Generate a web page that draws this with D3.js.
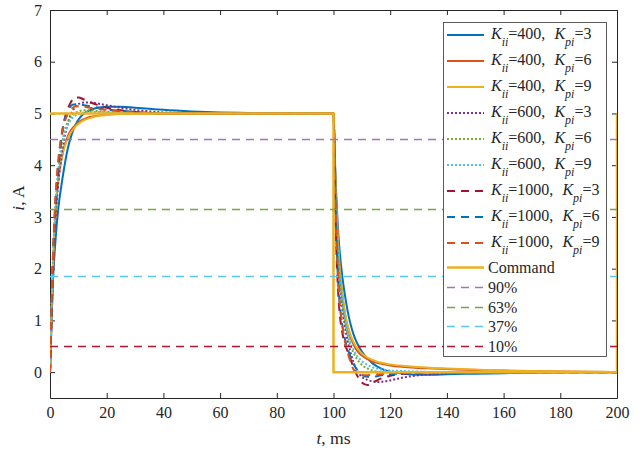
<!DOCTYPE html>
<html>
<head>
<meta charset="utf-8">
<script src="https://cdn.jsdelivr.net/npm/d3@7"></script>
<style>
  body { margin: 0; background: #fff; }
  text { font-family: "Liberation Serif", "Times New Roman", serif; fill: #262626; }
</style>
</head>
<body>
<script>
// time samples (ms): step up at 0, step down at 100
var tMs = [0, 0.5, 1, 1.5, 2, 3, 4, 5, 6, 7, 8, 9, 10, 12, 14, 16, 18, 20, 25, 30, 35, 40, 50, 60, 70, 80, 100,
           100.5, 101, 101.5, 102, 103, 104, 105, 106, 107, 108, 109, 110, 112, 114, 116, 118, 120, 125, 130, 135, 140, 150, 160, 170, 180, 200];

// current responses, A
var kii400kpi3 = [0, 0.9, 1.7, 2.2, 2.6, 3.2, 3.6, 3.95, 4.25, 4.48, 4.65, 4.78, 4.88, 5.0, 5.06, 5.1, 5.12, 5.13, 5.13, 5.11, 5.09, 5.07, 5.04, 5.02, 5.01, 5.0, 5.0,
                  4.1, 3.4, 2.85, 2.45, 1.9, 1.5, 1.18, 0.93, 0.74, 0.6, 0.49, 0.4, 0.26, 0.16, 0.09, 0.04, 0.01, -0.03, -0.05, -0.05, -0.04, -0.03, -0.02, -0.01, 0, 0];
var kii400kpi6 = [0, 1.0, 1.9, 2.6, 3.1, 3.75, 4.1, 4.35, 4.52, 4.64, 4.72, 4.78, 4.83, 4.89, 4.93, 4.95, 4.97, 4.98, 4.99, 5.0, 5.0, 5.0, 5.0, 5.0, 5.0, 5.0, 5.0,
                  4.0, 3.2, 2.6, 2.15, 1.55, 1.15, 0.88, 0.68, 0.54, 0.44, 0.37, 0.32, 0.25, 0.2, 0.17, 0.15, 0.13, 0.1, 0.08, 0.07, 0.06, 0.04, 0.03, 0.02, 0.01, 0];
var kii400kpi9 = [0, 1.1, 2.0, 2.7, 3.2, 3.8, 4.12, 4.33, 4.48, 4.6, 4.68, 4.75, 4.8, 4.87, 4.91, 4.94, 4.96, 4.97, 4.99, 4.995, 5.0, 5.0, 5.0, 5.0, 5.0, 5.0, 5.0,
                  4.0, 3.2, 2.6, 2.15, 1.55, 1.15, 0.9, 0.72, 0.59, 0.49, 0.42, 0.36, 0.28, 0.23, 0.19, 0.17, 0.15, 0.12, 0.1, 0.08, 0.07, 0.05, 0.03, 0.02, 0.01, 0];
var kii600kpi3 = [0, 0.9, 1.8, 2.5, 3.0, 3.7, 4.15, 4.5, 4.75, 4.93, 5.05, 5.13, 5.18, 5.21, 5.21, 5.2, 5.18, 5.16, 5.11, 5.07, 5.04, 5.02, 5.01, 5.0, 5.0, 5.0, 5.0,
                  3.9, 2.9, 2.3, 1.85, 1.3, 0.9, 0.6, 0.38, 0.2, 0.07, -0.03, -0.09, -0.15, -0.18, -0.19, -0.18, -0.16, -0.1, -0.06, -0.04, -0.02, -0.01, 0, 0, 0, 0];
var kii600kpi6 = [0, 1.0, 2.0, 2.7, 3.2, 3.9, 4.35, 4.62, 4.8, 4.9, 4.97, 5.01, 5.04, 5.06, 5.06, 5.05, 5.04, 5.03, 5.02, 5.01, 5.0, 5.0, 5.0, 5.0, 5.0, 5.0, 5.0,
                  3.9, 3.0, 2.4, 1.95, 1.4, 1.0, 0.72, 0.52, 0.38, 0.28, 0.2, 0.14, 0.07, 0.03, 0.01, 0, -0.01, -0.01, 0, 0, 0, 0, 0, 0, 0, 0];
var kii600kpi9 = [0, 1.1, 2.1, 2.8, 3.3, 3.95, 4.35, 4.6, 4.75, 4.85, 4.92, 4.96, 4.99, 5.02, 5.03, 5.03, 5.03, 5.02, 5.01, 5.0, 5.0, 5.0, 5.0, 5.0, 5.0, 5.0, 5.0,
                  3.95, 3.05, 2.45, 2.0, 1.45, 1.05, 0.78, 0.58, 0.44, 0.34, 0.27, 0.21, 0.14, 0.09, 0.06, 0.04, 0.03, 0.02, 0.01, 0, 0, 0, 0, 0, 0, 0];
var kii1000kpi3 = [0, 1.0, 2.0, 2.7, 3.2, 3.95, 4.5, 4.85, 5.05, 5.18, 5.27, 5.31, 5.31, 5.27, 5.22, 5.18, 5.14, 5.11, 5.06, 5.03, 5.01, 5.0, 5.0, 5.0, 5.0, 5.0, 5.0,
                   3.6, 2.4, 1.7, 1.25, 0.8, 0.55, 0.4, 0.25, 0.1, -0.03, -0.13, -0.2, -0.25, -0.2, -0.14, -0.1, -0.07, -0.03, -0.01, 0, 0, 0, 0, 0, 0, 0];
var kii1000kpi6 = [0, 1.1, 2.1, 2.8, 3.35, 4.05, 4.55, 4.85, 5.02, 5.12, 5.17, 5.18, 5.18, 5.16, 5.14, 5.12, 5.1, 5.08, 5.05, 5.03, 5.01, 5.0, 5.0, 5.0, 5.0, 5.0, 5.0,
                   3.7, 2.6, 1.9, 1.45, 0.95, 0.65, 0.45, 0.3, 0.17, 0.07, 0.0, -0.05, -0.09, -0.09, -0.07, -0.05, -0.04, -0.02, -0.01, 0, 0, 0, 0, 0, 0, 0];
var kii1000kpi9 = [0, 1.2, 2.2, 2.9, 3.45, 4.15, 4.55, 4.8, 4.96, 5.06, 5.11, 5.14, 5.14, 5.13, 5.11, 5.1, 5.08, 5.07, 5.04, 5.02, 5.01, 5.0, 5.0, 5.0, 5.0, 5.0, 5.0,
                   3.8, 2.7, 2.0, 1.5, 0.95, 0.6, 0.38, 0.2, 0.06, -0.02, -0.05, -0.06, -0.06, -0.05, -0.04, -0.03, -0.02, -0.01, 0, 0, 0, 0, 0, 0, 0, 0];

// command current
var cmdT = [0, 100, 100, 200, 200];
var cmdI = [5, 5, 0, 0, 5];

// reference levels
var levelNames = ["90%", "63%", "37%", "10%"];
var levelValues = [4.5, 3.15, 1.85, 0.5];

// legend parameters
var kiiValues = [400, 400, 400, 600, 600, 600, 1000, 1000, 1000];
var kpiValues = [3, 6, 9, 3, 6, 9, 3, 6, 9];

var xTicks = [0, 20, 40, 60, 80, 100, 120, 140, 160, 180, 200];
var yTicks = [0, 1, 2, 3, 4, 5, 6, 7];

var responses = [kii400kpi3, kii400kpi6, kii400kpi9, kii600kpi3, kii600kpi6, kii600kpi9, kii1000kpi3, kii1000kpi6, kii1000kpi9];
var colors = ["#0072BD", "#D95319", "#EDB120", "#7E2F8E", "#77AC30", "#4DBEEE", "#A2142F", "#0072BD", "#D95319"];
var dashes = [null, null, null, "2,2", "2,2", "2,2", "8,6", "8,6", "8,6"];
var levelColors = ["#A970C2", "#74A93A", "#5EC6EE", "#B0162F"];

var W = 643, H = 455;
var margin = {top: 10, right: 26, bottom: 57, left: 50},
    width = W - margin.left - margin.right,
    height = H - margin.top - margin.bottom;

var x = d3.scaleLinear().domain([0, 200]).range([0, width]);
var y = d3.scaleLinear().domain([-0.5, 7]).range([height, 0]);

var svg = d3.select("body").append("svg")
    .attr("width", W).attr("height", H);

var g = svg.append("g")
    .attr("transform", "translate(" + margin.left + "," + margin.top + ")");

g.append("clipPath").attr("id", "clip")
  .append("rect").attr("width", width).attr("height", height);

// axes (ticks inside, box all round)
function styleAxis(sel) {
  sel.selectAll("path, line").attr("stroke", "#262626");
  sel.selectAll("text").style("font-size", "16px").attr("fill", "#262626");
}
g.append("g").attr("transform", "translate(0," + height + ")")
  .call(d3.axisBottom(x).tickValues(xTicks).tickSizeInner(-5).tickSizeOuter(0).tickPadding(9))
  .call(styleAxis);
g.append("g").attr("transform", "translate(0,0)")
  .call(d3.axisTop(x).tickValues(xTicks).tickSizeInner(-5).tickSizeOuter(0).tickFormat(""))
  .call(styleAxis);
g.append("g")
  .call(d3.axisLeft(y).tickValues(yTicks).tickSizeInner(-5).tickSizeOuter(0).tickPadding(8))
  .call(styleAxis);
g.append("g").attr("transform", "translate(" + width + ",0)")
  .call(d3.axisRight(y).tickValues(yTicks).tickSizeInner(-5).tickSizeOuter(0).tickFormat(""))
  .call(styleAxis);
g.selectAll(".domain").attr("fill", "none");

var plot = g.append("g").attr("clip-path", "url(#clip)");

var line = d3.line()
    .x(function(d) { return x(d[0]); })
    .y(function(d) { return y(d[1]); })
    .curve(d3.curveMonotoneX);

responses.forEach(function(vals, i) {
  plot.append("path")
      .datum(tMs.map(function(t, j) { return [t, vals[j]]; }))
      .attr("fill", "none")
      .attr("stroke", colors[i])
      .attr("stroke-width", 2)
      .attr("stroke-dasharray", dashes[i])
      .attr("d", line);
});

// command
plot.append("path")
    .datum(cmdT.map(function(t, j) { return [t, cmdI[j]]; }))
    .attr("fill", "none")
    .attr("stroke", "#EDB120")
    .attr("stroke-width", 2.5)
    .attr("d", d3.line().x(function(d) { return x(d[0]); }).y(function(d) { return y(d[1]); }));

// levels
levelValues.forEach(function(v, i) {
  var yy = Math.round(y(v)) + 0.5;
  plot.append("line")
      .attr("x1", x(0)).attr("x2", x(200))
      .attr("y1", yy).attr("y2", yy)
      .attr("stroke", levelColors[i])
      .attr("stroke-width", 1.3)
      .attr("stroke-dasharray", "8,6");
});

// axis labels
svg.append("text")
    .attr("x", margin.left + width / 2).attr("y", 444)
    .attr("text-anchor", "middle").style("font-size", "17.6px")
    .html('<tspan font-style="italic">t</tspan>, ms');
svg.append("text")
    .attr("transform", "translate(24,198) rotate(-90)")
    .attr("text-anchor", "middle").style("font-size", "17.6px")
    .html('<tspan font-style="italic">i</tspan>, A');

// legend
var leg = svg.append("g");
leg.append("rect")
    .attr("x", 443.5).attr("y", 22.5).attr("width", 163).attr("height", 334)
    .attr("fill", "#fff").attr("stroke", "#333").attr("stroke-width", 0.8);

function legendLine(yc, color, dash, w) {
  leg.append("line")
      .attr("x1", 447).attr("x2", 484).attr("y1", yc).attr("y2", yc)
      .attr("stroke", color).attr("stroke-width", w)
      .attr("stroke-dasharray", dash);
}

kiiValues.forEach(function(kii, i) {
  var yc = 35 + i * 26;
  legendLine(yc, colors[i], dashes[i], 2);
  var t = leg.append("text").attr("x", 491).attr("y", yc + 4).style("font-size", "16px");
  t.append("tspan").attr("font-style", "italic").text("K");
  t.append("tspan").attr("font-style", "italic").attr("dy", 7).style("font-size", "12px").text("ii");
  t.append("tspan").attr("dy", -7).text("=" + kii + ",");
  t.append("tspan").attr("dx", 9).attr("font-style", "italic").text("K");
  t.append("tspan").attr("font-style", "italic").attr("dy", 7).style("font-size", "12px").text("pi");
  t.append("tspan").attr("dy", -7).text("=" + kpiValues[i]);
});

legendLine(267.5, "#EDB120", null, 2.5);
leg.append("text").attr("x", 488).attr("y", 272.5).style("font-size", "16px").text("Command");

levelNames.forEach(function(name, i) {
  var yc = Math.round(287 + i * 19.5) + 0.5;
  legendLine(yc, levelColors[i], "8,6", 1.3);
  leg.append("text").attr("x", 488).attr("y", yc + 5).style("font-size", "16px").text(name);
});
</script>
</body>
</html>
